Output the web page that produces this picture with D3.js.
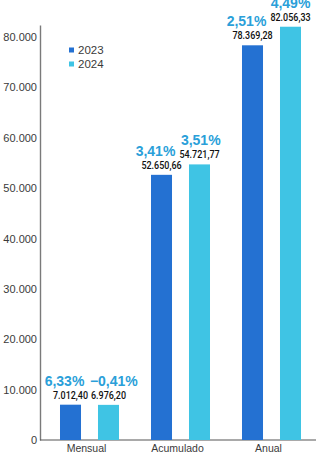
<!DOCTYPE html>
<html>
<head>
<meta charset="utf-8">
<script src="https://cdn.jsdelivr.net/npm/d3@7"></script>
<style>
  html, body { margin: 0; padding: 0; background: #ffffff; }
  svg { display: block; }
</style>
</head>
<body>
<svg id="chart" width="316" height="456"></svg>
<script>
// ---- data ----
const categories = ["Mensual", "Acumulado", "Anual"];
const seriesNames = ["2023", "2024"];
const values2023 = [7012.40, 52650.66, 78369.28];
const values2024 = [6976.20, 54721.77, 82056.33];
const pct2023 = [6.33, 3.41, 2.51];
const pct2024 = [-0.41, 3.51, 4.49];
const yTickValues = [0, 10000, 20000, 30000, 40000, 50000, 60000, 70000, 80000];

// ---- styles ----
const colors = { "2023": "#2471d2", "2024": "#3fc4e4" };
const pctColor = "#2a9fd9";
const textColor = "#3a3a3a";

const locale = d3.formatLocale({ decimal: ",", thousands: ".", grouping: [3], currency: ["", ""] });
const fmtVal = locale.format(",.2f");
const fmtTick = locale.format(",.0f");
const fmtPct = v => locale.format(".2f")(v) + "%";

const rows = categories.map((c, i) => ({
  cat: c,
  items: [
    { s: "2023", v: values2023[i], p: pct2023[i] },
    { s: "2024", v: values2024[i], p: pct2024[i] }
  ]
}));

const svg = d3.select("#chart");
const W = 316, H = 456;
const axisX = 40, baseY = 440;

const x = d3.scaleBand().domain(categories).range([44, 317]).paddingInner(0).paddingOuter(0);
const xs = d3.scaleBand().domain(seriesNames).range([0, x.bandwidth()]).paddingInner(0.447).paddingOuter(0.421);
const y = d3.scaleLinear().domain([0, 82400]).range([baseY, 25]);

// y axis
const yAxis = svg.append("g")
  .attr("transform", `translate(${axisX},0)`)
  .call(d3.axisLeft(y).tickValues(yTickValues).tickFormat(fmtTick).tickSize(0).tickSizeOuter(0).tickPadding(3));
yAxis.select(".domain").attr("stroke", "#7a7a7a").attr("stroke-width", 1.4);
yAxis.selectAll("text")
  .attr("fill", textColor)
  .style("font-family", "'Liberation Sans', Arial, sans-serif")
  .style("font-size", "11px");

// baseline
svg.append("line")
  .attr("x1", axisX).attr("x2", W)
  .attr("y1", baseY).attr("y2", baseY)
  .attr("stroke", "#555").attr("stroke-width", 1.2);

// x axis labels
const xAxis = svg.append("g")
  .attr("transform", `translate(-3,${baseY})`)
  .call(d3.axisBottom(x).tickSize(0).tickPadding(5));
xAxis.select(".domain").remove();
xAxis.selectAll("text")
  .attr("fill", textColor)
  .style("font-family", "'Liberation Sans', Arial, sans-serif")
  .style("font-size", "10.5px");

// bars
const groups = svg.selectAll("g.cat").data(rows).join("g")
  .attr("class", "cat")
  .attr("transform", d => `translate(${x(d.cat)},0)`);

groups.selectAll("rect").data(d => d.items).join("rect")
  .attr("x", d => xs(d.s))
  .attr("width", xs.bandwidth())
  .attr("y", d => y(d.v))
  .attr("height", d => baseY - y(d.v))
  .attr("fill", d => colors[d.s]);

// value labels (condensed look via horizontal scaling)
groups.selectAll("text.val").data(d => d.items).join("text")
  .attr("class", "val")
  .attr("transform", d => `translate(${xs(d.s) + xs.bandwidth() / 2},${y(d.v) - 6}) scale(0.78,1)`)
  .attr("text-anchor", "middle")
  .attr("fill", "#111")
  .style("font-family", "Roboto, 'Liberation Sans', sans-serif")
  .style("font-weight", "500")
  .style("font-size", "11.5px")
  .text(d => fmtVal(d.v));

// percent labels
groups.each(function(d) {
  const g = d3.select(this);
  const texts = g.selectAll("text.pct").data(d.items).join("text")
    .attr("class", "pct")
    .attr("x", it => xs(it.s) + xs.bandwidth() / 2 + (it.s === "2023" ? -6 : 0))
    .attr("y", it => y(it.v) - 19)
    .attr("text-anchor", "middle")
    .attr("fill", pctColor)
    .style("font-family", "'Liberation Sans', Arial, sans-serif")
    .style("font-weight", "bold")
    .style("font-size", "14px")
    .text(it => fmtPct(it.p));
  const nodes = texts.nodes();
  const b0 = nodes[0].getBBox(), b1 = nodes[1].getBBox();
  const gap = 5;
  if (Math.abs(b0.y - b1.y) < b0.height && b0.x + b0.width + gap > b1.x) {
    const shift = b0.x + b0.width + gap - b1.x;
    d3.select(nodes[1]).attr("x", +d3.select(nodes[1]).attr("x") + shift);
  }
});

// legend
const legend = svg.append("g").attr("transform", "translate(69,50)");
seriesNames.forEach((s, i) => {
  const row = legend.append("g").attr("transform", `translate(0,${i * 14})`);
  row.append("rect").attr("x", 0).attr("y", -2.5).attr("width", 5).attr("height", 5).attr("fill", colors[s]);
  row.append("text").attr("x", 9).attr("y", 0).attr("dy", "0.35em")
    .attr("fill", textColor)
    .style("font-family", "'Liberation Sans', Arial, sans-serif")
    .style("font-size", "11.5px")
    .text(s);
});
</script>
</body>
</html>
